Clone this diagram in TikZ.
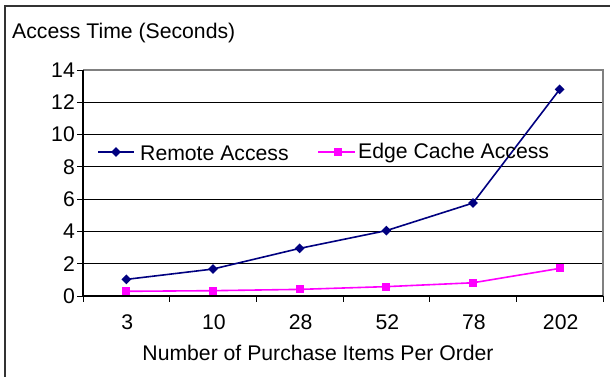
\documentclass[tikz,border=0pt]{standalone}
\usepackage{fontspec}
\setmainfont{Liberation Sans}
\usetikzlibrary{shapes.geometric}
\definecolor{remotecol}{RGB}{0,0,128}
\definecolor{edgecol}{RGB}{255,0,255}
\definecolor{framegrey}{RGB}{128,128,128}
\tikzset{
  lbl/.style={inner sep=0pt, font=\fontsize{21.2}{25}\selectfont},
  grid line/.style={line width=0.9pt, black},
  remote line/.style={line width=1.6pt, remotecol},
  edge line/.style={line width=1.6pt, edgecol},
  remote mark/.style={diamond, fill=remotecol, inner sep=0pt, minimum width=10pt, minimum height=10pt},
  edge mark/.style={rectangle, fill=edgecol, inner sep=0pt, minimum size=8pt},
}
\begin{document}
\begin{tikzpicture}[x=1pt,y=-1pt]
\useasboundingbox (0,0) rectangle (610,377);
\fill[white] (0,0) rectangle (610,377);

% outer chart frame (only left and top edges fall inside the page)
\draw[line width=1.6pt, black!80] (5,380) -- (5,6) -- (612,6);

% y axis title
\node[lbl, anchor=west] (ytitle) at (12,33) {Access Time (Seconds)};

% horizontal grid lines
\foreach \v in {2,4,...,12} {
  \draw[grid line] (83,{296-16.14*\v}) -- (603,{296-16.14*\v});
}
% plot area border (top and right)
\draw[line width=1.5pt, framegrey] (83,70) -- (603,70) -- (603,296);

% axes
\draw[line width=1.2pt, black] (83,70) -- (83,296) -- (603,296);

% y ticks and labels
\foreach \v in {0,2,...,14} {
  \draw[line width=1pt] (77,{296-16.14*\v}) -- (83,{296-16.14*\v});
  \node[lbl, anchor=east] (y\v) at (75,{296-16.14*\v}) {\v};
}

% x ticks
\foreach \i in {0,...,6} {
  \draw[line width=1pt] ({83+86.67*\i},296) -- ({83+86.67*\i},302);
}

% x labels
\foreach \lab [count=\i from 0] in {3,10,28,52,78,202} {
  \node[lbl] (x\i) at ({126.3+86.67*\i+1},322) {\lab};
}
\node[lbl] (xtitle) at (318,353) {Number of Purchase Items Per Order};

% data points
\foreach \v [count=\i from 0] in {1.03,1.67,2.95,4.05,5.76,12.8} {
  \coordinate (r\i) at ({126.3+86.67*\i},{296-16.14*\v});
}
\foreach \v [count=\i from 0] in {0.29,0.33,0.41,0.58,0.82,1.71} {
  \coordinate (e\i) at ({126.3+86.67*\i},{296-16.14*\v});
}

% series lines
\draw[edge line] (e0) -- (e1) -- (e2) -- (e3) -- (e4) -- (e5);
\draw[remote line] (r0) -- (r1) -- (r2) -- (r3) -- (r4) -- (r5);

% series markers
\foreach \i in {0,...,5} {
  \node[edge mark] (em\i) at (e\i) {};
  \node[remote mark] (rm\i) at (r\i) {};
}

% legend
\coordinate (lra) at (98,152);
\coordinate (lrb) at (134,152);
\draw[remote line] (lra) -- (lrb);
\node[remote mark] (lrm) at (116,152) {};
\node[lbl, anchor=west] (lrt) at (140,153) {Remote Access};

\coordinate (lea) at (318,152);
\coordinate (leb) at (355,152);
\draw[edge line] (lea) -- (leb);
\node[edge mark] (lem) at (338,152) {};
\node[lbl, anchor=west] (let) at (358,153) {Edge Cache Access};
\end{tikzpicture}
\end{document}
